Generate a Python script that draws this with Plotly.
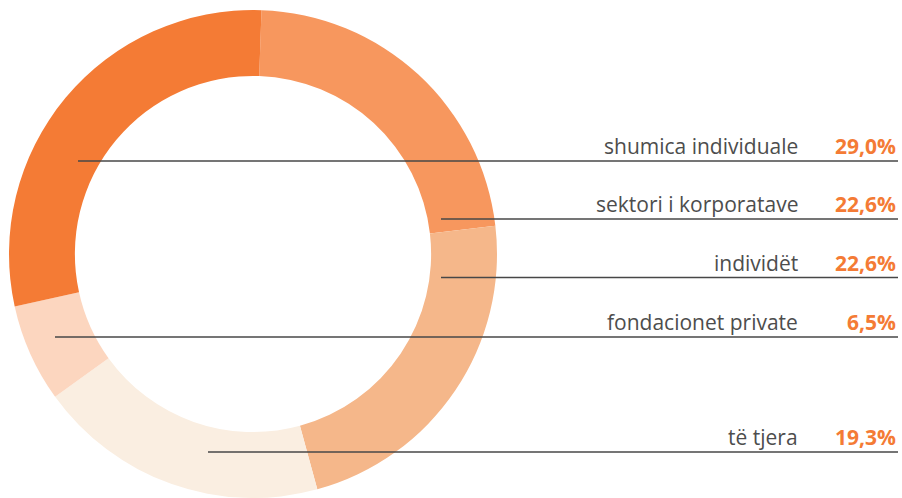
import plotly.graph_objects as go

# slices, clockwise from 12 o'clock
labels = ["sektori i korporatave", "individët", "të tjera", "fondacionet private", "shumica individuale"]
values = [22.6, 22.6, 19.3, 6.5, 29.0]
colors = ["#F7975E", "#F5B78A", "#FAEEE1", "#FCD6BF", "#F47B35"]

# callouts on the right, top to bottom
callout_order = ["shumica individuale", "sektori i korporatave", "individët", "fondacionet private", "të tjera"]

W, H = 902, 498
# (line y, line start x) in pixels for each callout
callout_pos = [(161, 78), (219, 441), (277.5, 441), (337, 55), (452, 208)]

fig = go.Figure()

fig.add_trace(go.Pie(
    labels=labels,
    values=values,
    sort=False,
    direction="clockwise",
    rotation=2,
    hole=0.73,
    marker=dict(colors=colors, line=dict(width=0)),
    textinfo="none",
    hoverinfo="label+percent",
    showlegend=False,
    domain=dict(x=[8 / W, 498 / W], y=[0, 1 - 10 / H]),
))

val_map = dict(zip(labels, values))
shapes = []
annotations = []
for name, (ly, lx) in zip(callout_order, callout_pos):
    shapes.append(dict(
        type="line", xref="paper", yref="paper",
        x0=lx / W, x1=898 / W, y0=1 - ly / H, y1=1 - ly / H,
        line=dict(color="#474747", width=1.3),
    ))
    annotations.append(dict(
        xref="paper", yref="paper", x=800 / W, y=1 - (ly - 15) / H,
        xanchor="right", yanchor="middle", showarrow=False,
        text=name, font=dict(family="Open Sans", size=21, color="#4D4D4D"),
    ))
    annotations.append(dict(
        xref="paper", yref="paper", x=898 / W, y=1 - (ly - 15) / H,
        xanchor="right", yanchor="middle", showarrow=False,
        text="<b>" + f"{val_map[name]:.1f}".replace(".", ",") + "%</b>",
        font=dict(family="Open Sans", size=21, color="#F47B35"),
    ))

fig.update_layout(
    width=W, height=H,
    margin=dict(l=0, r=0, t=0, b=0),
    paper_bgcolor="white",
    plot_bgcolor="white",
    shapes=shapes,
    annotations=annotations,
)

fig.write_html(
    "out.html",
    config={"displayModeBar": False},
    post_script="document.body.style.margin='0';document.body.style.overflow='hidden';",
)
